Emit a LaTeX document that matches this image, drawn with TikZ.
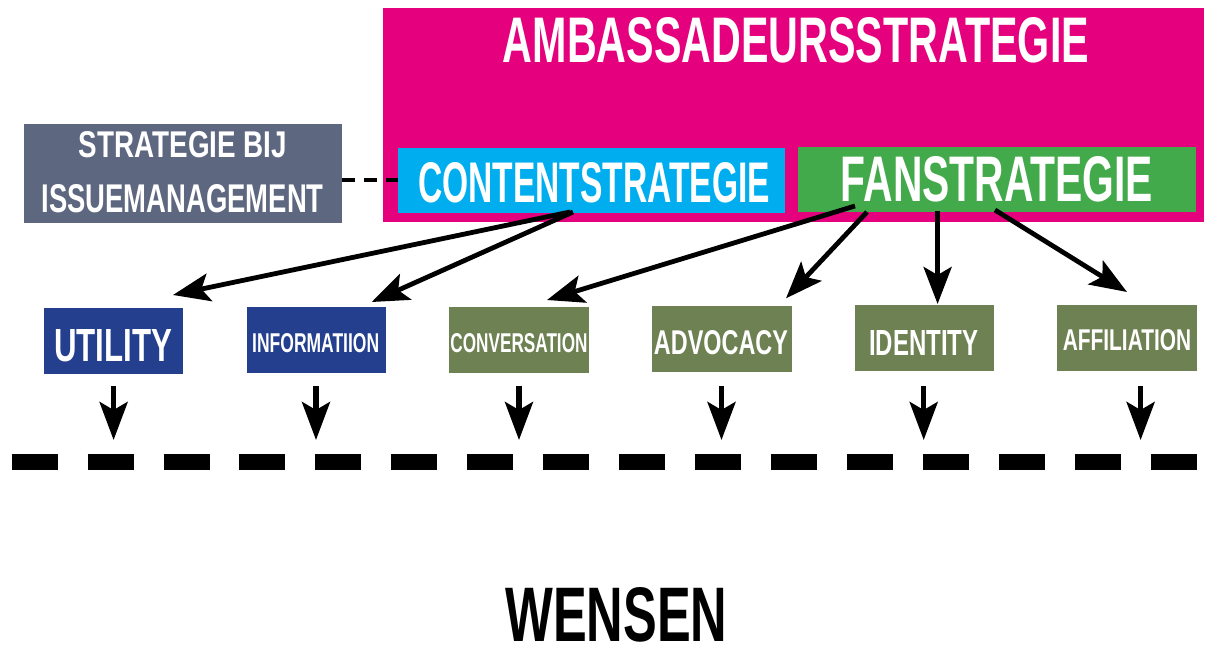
\documentclass[tikz,border=0pt]{standalone}
\usepackage{graphicx}
\usepackage{fontspec}
\setmainfont{Liberation Sans}
\usetikzlibrary{arrows.meta}

\definecolor{ambpink}{HTML}{E5007D}
\definecolor{contcyan}{HTML}{00AEEF}
\definecolor{fangreen}{HTML}{43AA4B}
\definecolor{issuegray}{HTML}{5E6780}
\definecolor{needblue}{HTML}{233F8E}
\definecolor{needolive}{HTML}{6E8152}

% condensed capitals: text scaled to a given width and cap height
\newcommand{\caps}[3]{\resizebox{#1pt}{#2pt}{\bfseries #3}}

\begin{document}
\begin{tikzpicture}[x=1pt,y=-1pt,
  every node/.style={inner sep=0pt,outer sep=0pt},
  needbox/.style={fill=#1,minimum width=139.5pt,minimum height=66pt},
  lbl/.style={text=white},
  link/.style={line width=4.8pt,-{Stealth[length=37pt,width=28pt,inset=8pt]}},
  flow/.style={line width=5.2pt,-{Stealth[length=38pt,width=28pt,inset=8pt]}}
]
\useasboundingbox[fill=white] (0,0) rectangle (1208,646);

% ambassador strategy frame
\node[fill=ambpink,minimum width=821pt,minimum height=214pt] (amb) at (793.5,115) {};
\node[lbl] (ambt) at (796,40.5) {\caps{586}{45}{AMBASSADEURSSTRATEGIE}};

% content and fan strategies
\node[fill=contcyan,minimum width=387pt,minimum height=64.7pt] (cont) at (591.5,180.3) {};
\node[lbl] (contt) at (594,183) {\caps{352}{40}{CONTENTSTRATEGIE}};
\node[fill=fangreen,minimum width=398pt,minimum height=64.7pt] (fan) at (997,179.3) {};
\node[lbl] (fant) at (997,179.5) {\caps{312}{45}{FANSTRATEGIE}};

% issue management
\node[fill=issuegray,minimum width=318pt,minimum height=98.7pt] (issue) at (183,173.3) {};
\node[lbl] (issuet1) at (183,145) {\caps{208}{26}{STRATEGIE BIJ}};
\node[lbl] (issuet2) at (182.6,199) {\caps{282}{28}{ISSUEMANAGEMENT}};
\draw[line width=4.2pt,dash pattern=on 13pt off 9pt] (issue.east |- cont.west) -- (cont.west);

% needs
\node[needbox=needblue] (util) at (113.6,341) {};
\node[lbl] (utilt) at (113,346) {\caps{118}{32}{UTILITY}};
\node[needbox=needblue] (info) at (316.3,340.3) {};
\node[lbl] (infot) at (315.7,343.5) {\caps{127}{19}{INFORMATIION}};
\node[needbox=needolive] (conv) at (519,339.8) {};
\node[lbl] (convt) at (519,343.5) {\caps{137}{19}{CONVERSATION}};
\node[needbox=needolive] (advo) at (721.8,339) {};
\node[lbl] (advot) at (721,343) {\caps{134}{24}{ADVOCACY}};
\node[needbox=needolive] (iden) at (924.3,338.3) {};
\node[lbl] (ident) at (923.7,342.5) {\caps{109.4}{25}{IDENTITY}};
\node[needbox=needolive] (affi) at (1127,337.8) {};
\node[lbl] (affit) at (1127,340.5) {\caps{128.4}{21}{AFFILIATION}};

% strategy to need connectors
\coordinate (cs1) at (570,212);
\coordinate (cs2) at (573,212);
\coordinate (fs1) at (855,206);
\coordinate (fs2) at (867,212);
\coordinate (fs3) at (937.6,211);
\coordinate (fs4) at (995,210);
\coordinate (utiltip) at (173,295);
\coordinate (infotip) at (371.7,302);
\coordinate (convtip) at (547,300);
\coordinate (advotip) at (786,298.3);
\coordinate (identip) at (937.6,304);
\coordinate (affitip) at (1127,292);
\draw[link] (cs1) -- (utiltip);
\draw[link] (cs2) -- (infotip);
\draw[link] (fs1) -- (convtip);
\draw[link] (fs2) -- (advotip);
\draw[link] (fs3) -- (identip);
\draw[link] (fs4) -- (affitip);

% needs flowing down to the wishes line
\foreach \nm/\x in {util/113.6,info/316,conv/519,advo/721.5,iden/923.7,affi/1140.6}{
  \coordinate (\nm top) at (\x,386);
  \coordinate (\nm bot) at (\x,440);
  \draw[flow] (\nm top) -- (\nm bot);
}

% wishes line
\coordinate (lineL) at (11.6,462);
\coordinate (lineR) at (1197.4,462);
\draw[line width=15.7pt,dash pattern=on 46pt off 29.96pt] (lineL) -- (lineR);

\node (wens) at (616.5,615) {\caps{222}{54}{WENSEN}};
\end{tikzpicture}
\end{document}
